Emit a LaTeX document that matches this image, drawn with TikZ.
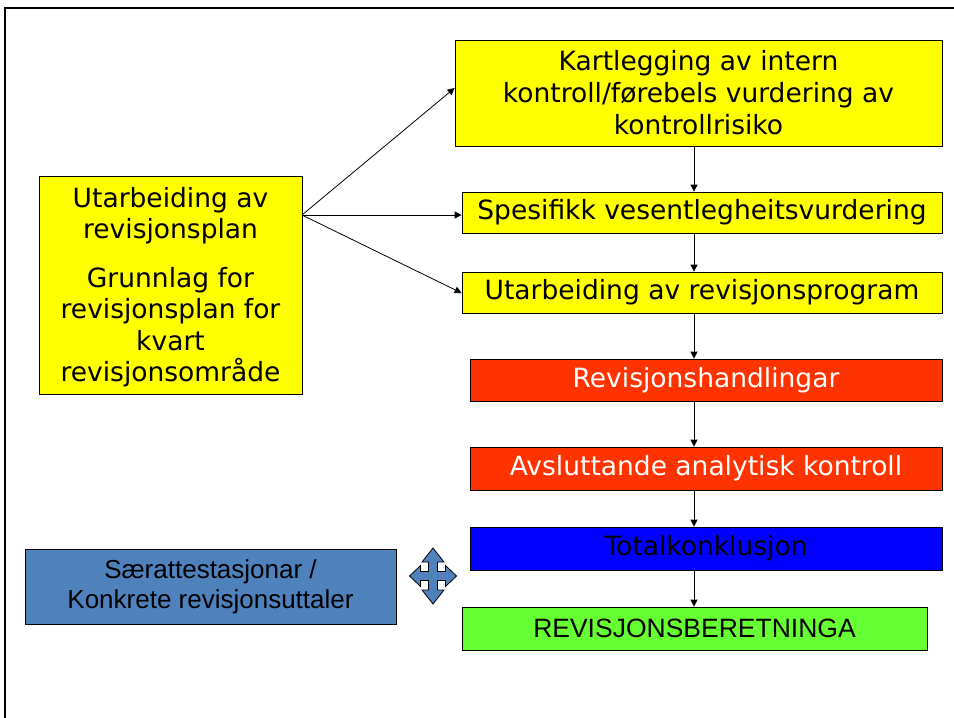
\documentclass[tikz,border=0pt]{standalone}
\usepackage{fontspec}
\setmainfont{DejaVu Sans}
\newfontfamily\arialfont{Liberation Sans}
\usetikzlibrary{arrows.meta}
\definecolor{cyellow}{HTML}{FFFF00}
\definecolor{cred}{HTML}{FF3300}
\definecolor{cblue}{HTML}{0000FF}
\definecolor{cgreen}{HTML}{66FF33}
\definecolor{csteel}{HTML}{4F81BD}
\tikzset{
  boxbase/.style={draw=black, line width=0.8pt, inner sep=0pt, align=center,
    font=\fontsize{26.5}{32}\selectfont},
  arr/.style={-{Triangle[length=7pt,width=7pt]}, line width=0.8pt},
}
\begin{document}
\begin{tikzpicture}[x=1pt,y=-1pt]
\useasboundingbox (0,0) rectangle (954,718);
\fill[white] (0,0) rectangle (954,718);
\draw[line width=2pt] (5,722) -- (5,8) -- (958,8);
% boxes
\node[boxbase, fill=cyellow, minimum width=487pt, minimum height=106pt] (kart) at (698.5,93)
  {Kartlegging av intern\\kontroll/førebels vurdering av\\kontrollrisiko};
\node[boxbase, fill=cyellow, minimum width=263pt, minimum height=218pt] (plan) at (170.5,285)
  {};
\node[align=center, inner sep=0pt, font=\fontsize{26.5}{31.5}\selectfont] (plantext) at (170.5,287)
  {Utarbeiding av\\revisjonsplan\\[17pt]Grunnlag for\\revisjonsplan for\\kvart\\revisjonsområde};
\node[boxbase, fill=cyellow, minimum width=480pt, minimum height=41pt] (spes) at (702,212.5)
  {Spesifikk vesentlegheitsvurdering};
\node[boxbase, fill=cyellow, minimum width=480pt, minimum height=41pt] (prog) at (702,292.5)
  {Utarbeiding av revisjonsprogram};
\node[boxbase, fill=cred, text=white, minimum width=472pt, minimum height=42pt] (handl) at (706,380)
  {Revisjonshandlingar};
\node[boxbase, fill=cred, text=white, minimum width=472pt, minimum height=43pt] (avsl) at (706,468.5)
  {Avsluttande analytisk kontroll};
\node[boxbase, fill=cblue, text=black, minimum width=472pt, minimum height=43pt] (total) at (706,548.5)
  {Totalkonklusjon};
\node[boxbase, fill=cgreen, minimum width=465pt, minimum height=43pt, font=\arialfont\fontsize{26.5}{32}\selectfont] (rb) at (694.5,628.5)
  {REVISJONSBERETNINGA};
\node[boxbase, fill=csteel, minimum width=371pt, minimum height=75pt, font=\arialfont\fontsize{26}{30}\selectfont] (saer) at (210.5,586.5)
  {Særattestasjonar /\\Konkrete revisjonsuttaler};
% quad arrow
\coordinate (qc) at (433,576);
\draw[fill=csteel, line width=0.8pt]
  (qc) ++(-4.5,-4.5) -- ++(0,-9.5) -- ++(-6.5,0) -- ++(11,-14) -- ++(11,14) -- ++(-6.5,0) -- ++(0,9.5)
  -- ++(8,0) -- ++(0,-6) -- ++(11,10.5) -- ++(-11,10.5) -- ++(0,-6) -- ++(-8,0)
  -- ++(0,9.5) -- ++(6.5,0) -- ++(-11,14) -- ++(-11,-14) -- ++(6.5,0) -- ++(0,-9.5)
  -- ++(-8,0) -- ++(0,6) -- ++(-11,-10.5) -- ++(11,-10.5) -- ++(0,6) -- cycle;
% connectors
\coordinate (src) at (302,215);
\draw[arr] (src) -- (kart.west |- 0,88);
\draw[arr] (src) -- (spes.west |- src);
\draw[arr] (src) -- (prog.west |- 0,293);
\draw[arr] (kart.south -| 694,0) -- (spes.north -| 694,0);
\draw[arr] (spes.south -| 694,0) -- (prog.north -| 694,0);
\draw[arr] (prog.south -| 694,0) -- (handl.north -| 694,0);
\draw[arr] (handl.south -| 694,0) -- (avsl.north -| 694,0);
\draw[arr] (avsl.south -| 694,0) -- (total.north -| 694,0);
\draw[arr] (total.south -| 694,0) -- (rb.north -| 694,0);
\end{tikzpicture}
\end{document}
